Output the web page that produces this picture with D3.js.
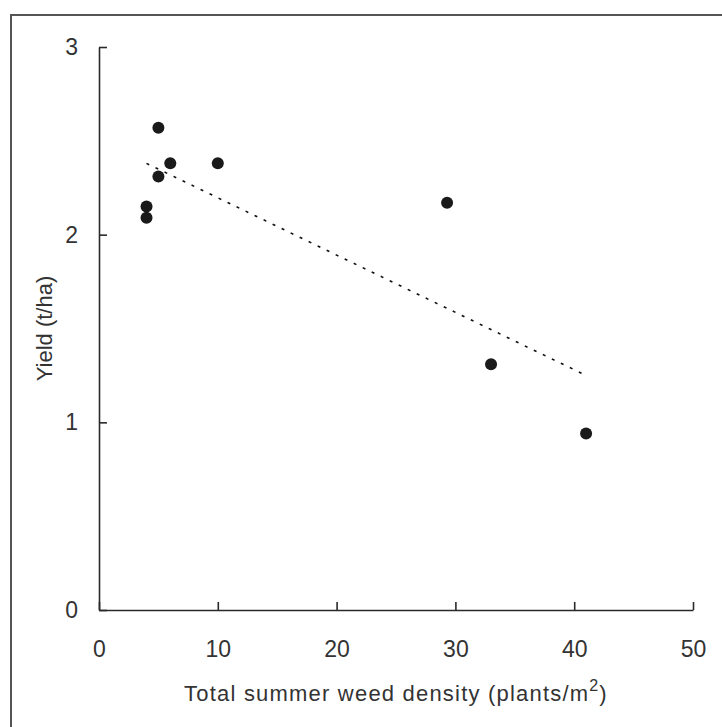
<!DOCTYPE html>
<html lang="en">
<head>
    <title>Yield vs weed density</title>
    <script src="https://cdn.jsdelivr.net/npm/d3@7"></script>
    <style type="text/css">
        body
        {
            margin: 0;
            background-color: white;
        }
        .axis text
        {
            font-family: "Liberation Sans", Arial, sans-serif;
            font-size: 23px;
            fill: #333;
        }
        .axis path, .axis line
        {
            stroke: #2a2a2a;
            stroke-width: 1.6px;
        }
    </style>
</head>
<body>
    <div id="chart_div"></div>
    <script>
    "use strict";
    // weed density (plants/m2) and yield (t/ha)
    var density = [4, 4, 5, 5, 6, 10, 29.3, 33, 41];
    var yieldTha = [2.15, 2.09, 2.57, 2.31, 2.38, 2.38, 2.17, 1.31, 0.94];
    // fitted trend line end points
    var trendX = [4, 41];
    var trendY = [2.38, 1.25];
    var xTicks = [0, 10, 20, 30, 40, 50];
    var yTicks = [0, 1, 2, 3];

    var svg_width = 722;
    var svg_height = 727;
    var padLeft = 99, padRight = 693, padTop = 47, padBottom = 610;

    var svg = d3.select("#chart_div")
        .append("svg")
        .attr("width", svg_width)
        .attr("height", svg_height);

    // frame round the figure (right/bottom edges run off the picture)
    svg.append("rect")
        .attr("x", 11)
        .attr("y", 15)
        .attr("width", 740)
        .attr("height", 740)
        .attr("fill", "none")
        .attr("stroke", "#555")
        .attr("stroke-width", 2);

    var xscale = d3.scaleLinear().domain([0, 50]).range([padLeft, padRight]);
    var yscale = d3.scaleLinear().domain([0, 3]).range([padBottom, padTop]);

    var xaxis = d3.axisBottom(xscale)
        .tickValues(xTicks)
        .tickFormat(d3.format("d"))
        .tickSizeInner(-8)
        .tickSizeOuter(0)
        .tickPadding(31);
    var yaxis = d3.axisLeft(yscale)
        .tickValues(yTicks)
        .tickFormat(d3.format("d"))
        .tickSizeInner(-8)
        .tickSizeOuter(0)
        .tickPadding(21);

    svg.append("g")
        .attr("class", "axis")
        .attr("transform", "translate(0," + padBottom + ")")
        .call(xaxis);
    svg.append("g")
        .attr("class", "axis")
        .attr("transform", "translate(" + padLeft + ",0)")
        .call(yaxis);
    svg.selectAll(".axis").attr("font-family", null).attr("font-size", null);

    // trend line
    svg.append("line")
        .attr("x1", xscale(trendX[0]))
        .attr("y1", yscale(trendY[0]))
        .attr("x2", xscale(trendX[1]))
        .attr("y2", yscale(trendY[1]))
        .attr("stroke", "#111")
        .attr("stroke-width", 1.6)
        .attr("stroke-dasharray", "3,7");

    svg.selectAll("circle.pt")
        .data(density)
        .enter()
        .append("circle")
        .attr("class", "pt")
        .attr("cx", function(d) { return xscale(d); })
        .attr("cy", function(d, i) { return yscale(yieldTha[i]); })
        .attr("r", 6)
        .attr("fill", "#1a1a1a");

    // axis titles
    var xt = svg.append("text")
        .attr("x", (padLeft + padRight) / 2)
        .attr("y", 701)
        .attr("text-anchor", "middle")
        .style("font-family", "'Liberation Sans', Arial, sans-serif")
        .style("font-size", "22px")
        .style("letter-spacing", "1.2px")
        .style("fill", "#333");
    xt.append("tspan").text("Total summer weed density (plants/m");
    xt.append("tspan").attr("dy", -10).style("font-size", "16px").text("2");
    xt.append("tspan").attr("dy", 10).text(")");

    svg.append("text")
        .attr("transform", "translate(52," + ((padTop + padBottom) / 2) + ") rotate(-90)")
        .attr("text-anchor", "middle")
        .style("font-family", "'Liberation Sans', Arial, sans-serif")
        .style("font-size", "22px")
        .style("fill", "#333")
        .text("Yield (t/ha)");
    </script>
</body>
</html>
